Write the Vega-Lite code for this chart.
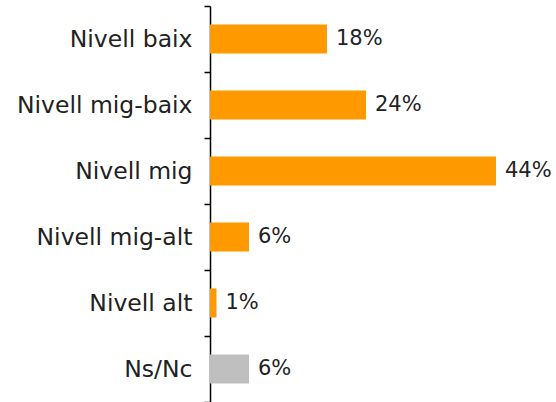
{
  "$schema": "https://vega.github.io/schema/vega-lite/v6.json",
  "autosize": "none",
  "padding": {"left": 210, "top": 6, "right": 21, "bottom": 0},
  "width": 325,
  "height": 396,
  "background": "white",
  "data": {"values": [
    {"cat": "Nivell baix", "pct": 18, "label": "18%", "grp": "a"},
    {"cat": "Nivell mig-baix", "pct": 24, "label": "24%", "grp": "a"},
    {"cat": "Nivell mig", "pct": 44, "label": "44%", "grp": "a"},
    {"cat": "Nivell mig-alt", "pct": 6, "label": "6%", "grp": "a"},
    {"cat": "Nivell alt", "pct": 1, "label": "1%", "grp": "a"},
    {"cat": "Ns/Nc", "pct": 6, "label": "6%", "grp": "b"}
  ]},
  "config": {"view": {"stroke": null}, "font": "DejaVu Sans"},
  "encoding": {
    "y": {"field": "cat", "type": "nominal", "sort": null,
      "scale": {"paddingInner": 0, "paddingOuter": 0},
      "axis": {"title": null, "domainColor": "#000000", "domainWidth": 1.5, "tickColor": "#000000", "tickWidth": 1.5, "tickSize": 6, "tickBand": "extent", "labelFontSize": 23.5, "labelColor": "#222222", "labelPadding": 12, "labelFont": "DejaVu Sans"}},
    "x": {"field": "pct", "type": "quantitative", "scale": {"domain": [0, 50]}, "axis": null}
  },
  "layer": [
    {"mark": {"type": "bar", "height": {"band": 0.44}},
     "encoding": {"color": {"field": "grp", "type": "nominal", "scale": {"domain": ["a", "b"], "range": ["#FF9900", "#BFBFBF"]}, "legend": null}}},
    {"mark": {"type": "text", "align": "left", "dx": 9, "fontSize": 21, "color": "#222222", "font": "DejaVu Sans"},
     "encoding": {"text": {"field": "label"}}}
  ]
}
